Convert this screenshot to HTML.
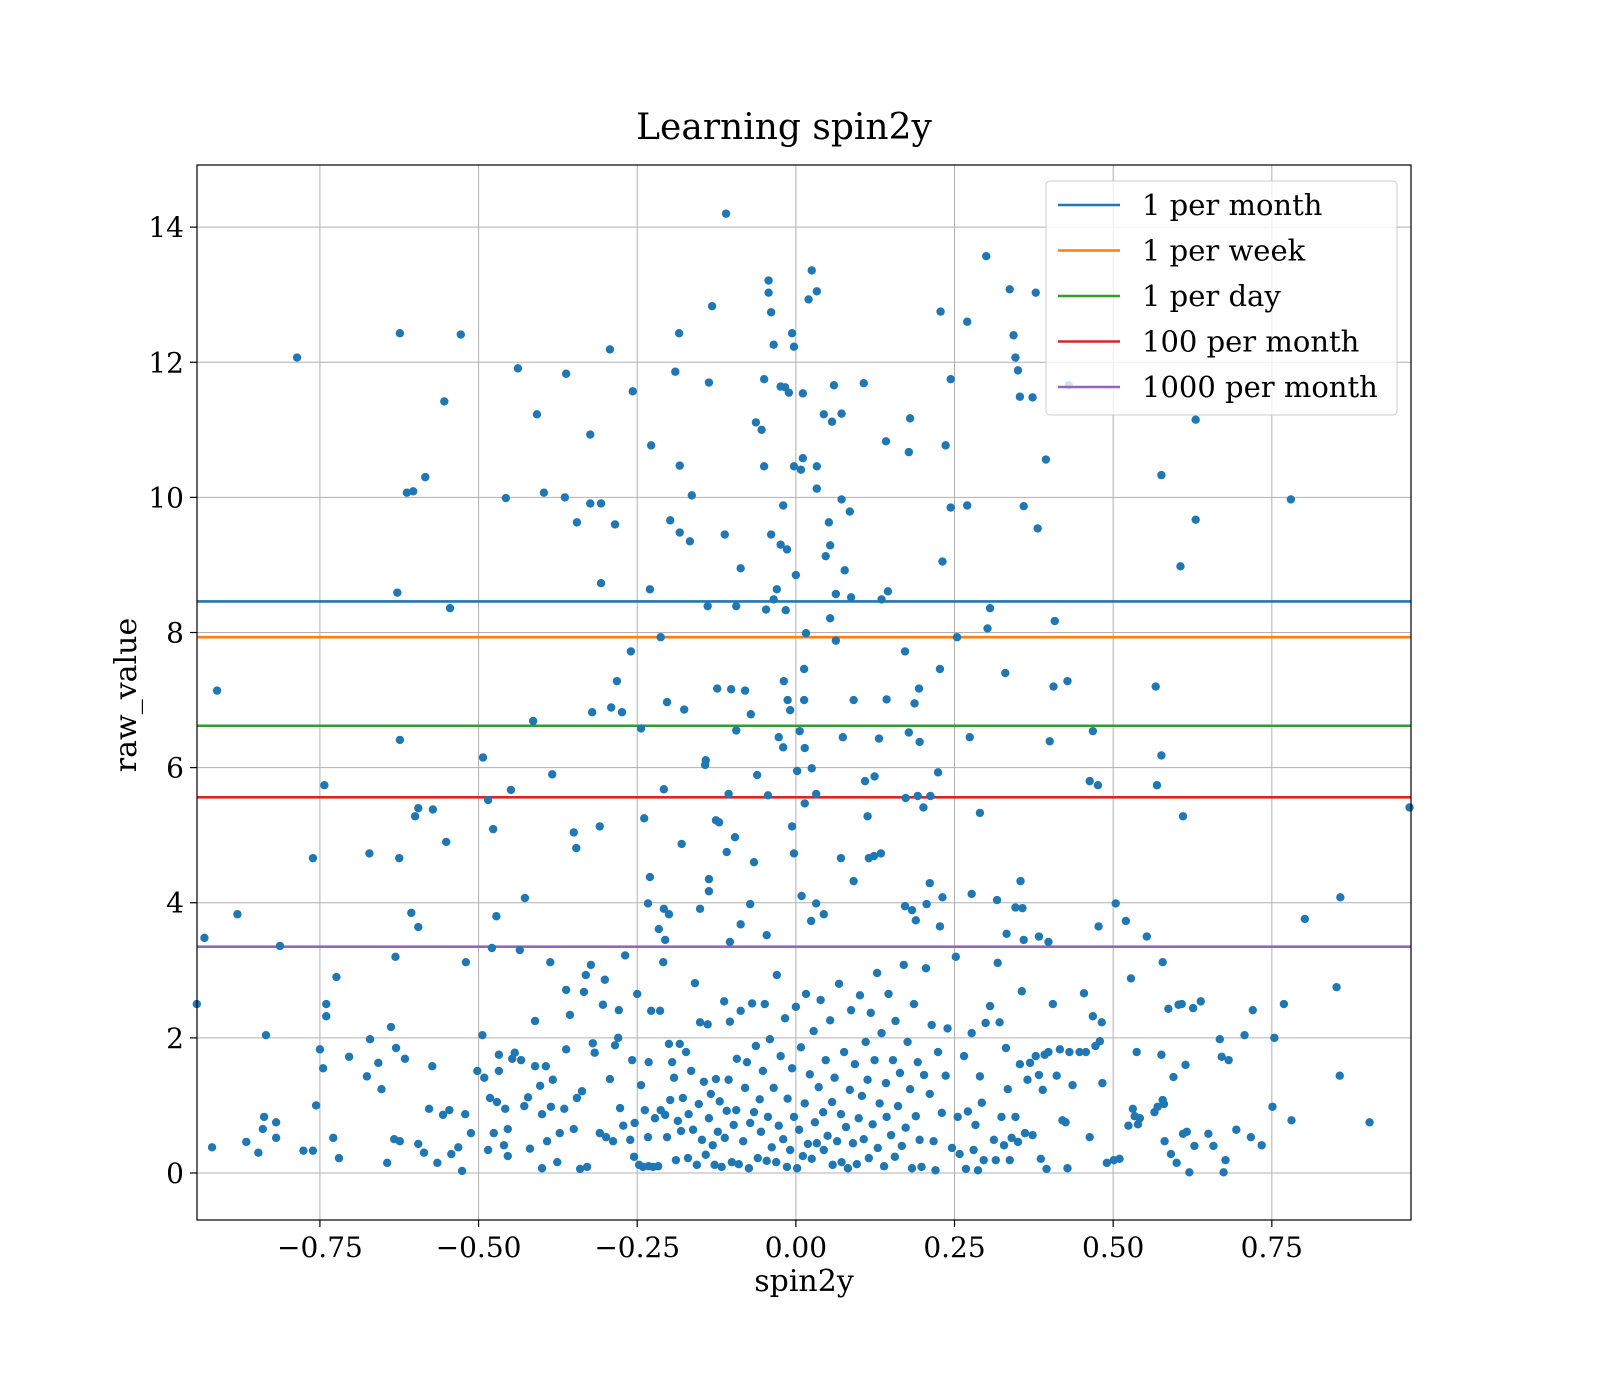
<!DOCTYPE html>
<html><head><meta charset="utf-8"><style>
html,body{margin:0;padding:0;background:#fff;}
svg{display:block;font-family:"DejaVu Serif","Liberation Serif",serif;}
</style></head><body>
<svg id="chart" width="1600" height="1400" viewBox="0 0 1600 1400" xmlns="http://www.w3.org/2000/svg">
<rect width="1600" height="1400" fill="#fff"/>
<text x="784" y="139" font-size="36" text-anchor="middle" fill="#000">Learning spin2y</text>
<g id="grid"></g><g id="hlines"></g><g id="pts"></g>
<rect x="197" y="165" width="1214" height="1055" fill="none" stroke="#000" stroke-width="1.2"/>
<g id="axes"></g><g id="legend"></g>
<text x="804" y="1291" font-size="30" text-anchor="middle">spin2y</text>
<text x="0" y="0" font-size="30" text-anchor="middle" transform="translate(136,695) rotate(-90)">raw_value</text>
</svg>
<script>
const xTicks=[-0.75,-0.5,-0.25,0,0.25,0.5,0.75];
const xTickLabels=["\u22120.75","\u22120.50","\u22120.25","0.00","0.25","0.50","0.75"];
const yTicks=[0,2,4,6,8,10,12,14];
const yTickLabels=["0","2","4","6","8","10","12","14"];
const thresholdNames=["1 per month","1 per week","1 per day","100 per month","1000 per month"];
const thresholdValues=[8.46,7.93,6.62,5.56,3.35];
const thresholdColors=["#1f77b4","#ff7f0e","#2ca02c","#d62728","#9467bd"];
const samples=[
[-0.11,14.2],[-0.043,13.21],[-0.043,13.03],[0.025,13.36],[0.033,13.05],[0.02,12.93],[0.30,13.57],[0.337,13.08],[0.378,13.03],[-0.132,12.83],[-0.039,12.74],[0.228,12.75],[0.27,12.6],[-0.624,12.43],[-0.528,12.41],[-0.184,12.43],[-0.006,12.43],[-0.003,12.23],[-0.035,12.26],[-0.293,12.19],[0.343,12.4],[-0.786,12.07],[0.346,12.07],[0.35,11.88],[-0.438,11.91],[-0.19,11.86],[-0.362,11.83],[-0.137,11.7],[-0.05,11.75],[0.06,11.66],[0.107,11.69],[-0.024,11.64],[-0.017,11.63],[0.244,11.75],[-0.011,11.55],[0.011,11.54],[-0.257,11.57],[0.353,11.49],[0.373,11.48],[0.43,11.66],[-0.554,11.42],[0.044,11.23],[0.072,11.24],[0.057,11.12],[-0.408,11.23],[0.18,11.17],[-0.063,11.11],[-0.054,11.0],[0.63,11.15],[-0.324,10.93],[0.142,10.83],[-0.228,10.77],[0.236,10.77],[0.178,10.67],[0.394,10.56],[0.011,10.58],[-0.183,10.47],[-0.05,10.46],[0.033,10.46],[-0.003,10.46],[0.008,10.41],[0.576,10.33],[-0.584,10.3],[-0.613,10.07],[-0.603,10.09],[-0.397,10.07],[0.033,10.13],[-0.164,10.03],[-0.364,10.0],[-0.457,9.99],[0.072,9.97],[0.78,9.97],[-0.324,9.91],[-0.307,9.91],[-0.02,9.88],[0.27,9.88],[0.244,9.85],[0.085,9.79],[0.359,9.87],[-0.198,9.66],[0.63,9.67],[-0.345,9.63],[0.052,9.63],[-0.285,9.6],[0.381,9.54],[-0.183,9.48],[-0.039,9.45],[-0.112,9.45],[-0.167,9.35],[-0.024,9.3],[0.054,9.29],[-0.014,9.23],[0.047,9.13],[0.231,9.05],[-0.087,8.95],[0.077,8.92],[0.606,8.98],[0.0,8.85],[-0.307,8.73],[-0.23,8.64],[-0.03,8.64],[0.145,8.61],[-0.628,8.59],[0.063,8.57],[0.087,8.52],[0.135,8.49],[-0.035,8.49],[-0.139,8.39],[-0.094,8.39],[-0.545,8.36],[-0.047,8.34],[-0.016,8.33],[0.306,8.36],[0.054,8.21],[0.408,8.17],[0.302,8.06],[0.016,7.99],[-0.213,7.93],[0.254,7.93],[0.063,7.88],[0.172,7.72],[-0.26,7.72],[0.227,7.46],[0.013,7.46],[0.33,7.4],[-0.019,7.28],[-0.282,7.28],[0.428,7.28],[0.567,7.2],[0.406,7.2],[-0.912,7.14],[-0.124,7.17],[-0.102,7.16],[-0.08,7.14],[0.194,7.17],[0.143,7.01],[0.013,7.0],[0.091,7.0],[-0.203,6.97],[-0.013,7.0],[0.187,6.95],[-0.009,6.85],[-0.176,6.86],[-0.291,6.89],[-0.274,6.82],[-0.321,6.82],[-0.071,6.79],[-0.414,6.69],[-0.094,6.55],[-0.244,6.58],[0.006,6.54],[0.468,6.54],[0.178,6.52],[0.074,6.45],[-0.027,6.45],[0.274,6.45],[0.131,6.43],[-0.624,6.41],[0.4,6.39],[0.195,6.38],[-0.02,6.3],[0.014,6.29],[0.576,6.18],[-0.493,6.15],[-0.142,6.11],[-0.143,6.04],[0.025,5.99],[0.002,5.95],[0.224,5.93],[-0.384,5.9],[-0.061,5.89],[0.109,5.8],[0.463,5.8],[0.124,5.87],[-0.743,5.74],[0.569,5.74],[0.476,5.74],[-0.208,5.68],[-0.449,5.67],[0.032,5.61],[-0.044,5.59],[0.967,5.41],[0.192,5.58],[0.212,5.58],[0.173,5.55],[-0.485,5.52],[-0.106,5.61],[0.014,5.47],[0.201,5.41],[-0.595,5.4],[-0.572,5.38],[-0.6,5.28],[0.29,5.33],[0.113,5.28],[0.61,5.28],[-0.239,5.25],[-0.126,5.22],[-0.121,5.19],[-0.309,5.13],[-0.006,5.13],[-0.477,5.09],[-0.35,5.04],[-0.096,4.97],[-0.551,4.9],[-0.346,4.81],[-0.18,4.87],[-0.109,4.75],[0.134,4.73],[-0.003,4.73],[-0.672,4.73],[0.123,4.69],[0.115,4.66],[-0.761,4.66],[-0.625,4.66],[0.071,4.66],[-0.066,4.6],[-0.137,4.35],[-0.23,4.38],[0.354,4.32],[0.091,4.32],[0.211,4.29],[-0.137,4.17],[0.009,4.1],[0.277,4.13],[0.858,4.08],[-0.427,4.07],[0.231,4.08],[0.504,3.99],[0.317,4.04],[0.032,3.99],[-0.233,3.99],[0.206,3.98],[-0.072,3.98],[0.172,3.95],[0.346,3.93],[0.357,3.92],[-0.208,3.91],[0.183,3.89],[-0.151,3.91],[-0.88,3.83],[-0.2,3.83],[-0.606,3.85],[-0.472,3.8],[0.802,3.76],[0.189,3.74],[0.044,3.83],[0.024,3.73],[0.52,3.73],[-0.087,3.68],[0.477,3.65],[0.227,3.65],[-0.595,3.64],[-0.216,3.61],[0.553,3.5],[0.332,3.54],[0.383,3.5],[-0.046,3.52],[0.359,3.45],[0.398,3.42],[-0.206,3.45],[-0.104,3.42],[-0.932,3.48],
[-0.944,2.5],[-0.92,0.38],[-0.866,0.46],[-0.847,0.3],[-0.84,0.65],[-0.838,0.83],[-0.835,2.04],[-0.819,0.52],[-0.819,0.75],[-0.813,3.36],[-0.776,0.33],[-0.761,0.33],[-0.756,1.0],[-0.75,1.83],[-0.745,1.55],[-0.74,2.5],[-0.74,2.32],[-0.729,0.52],[-0.724,2.9],[-0.72,0.22],[-0.704,1.72],[-0.676,1.43],[-0.671,1.98],[-0.658,1.63],[-0.653,1.24],[-0.644,0.15],[-0.638,2.16],[-0.633,0.5],[-0.631,3.2],[-0.63,1.85],[-0.624,0.47],[-0.616,1.69],[-0.595,0.43],[-0.586,0.3],[-0.578,0.95],[-0.573,1.58],[-0.565,0.15],[-0.556,0.86],[-0.546,0.93],[-0.543,0.28],[-0.532,0.38],[-0.526,0.03],[-0.521,0.87],[-0.52,3.12],[-0.512,0.59],[-0.502,1.51],[-0.494,2.04],[-0.491,1.41],[-0.485,0.34],[-0.482,1.11],[-0.479,3.33],[-0.476,0.59],[-0.471,1.05],[-0.468,1.75],[-0.468,1.51],[-0.46,0.41],[-0.458,0.95],[-0.454,0.65],[-0.454,0.25],[-0.447,1.69],[-0.443,1.78],[-0.435,3.3],[-0.433,1.67],[-0.428,0.99],[-0.422,1.12],[-0.419,0.36],[-0.411,2.25],[-0.411,1.58],[-0.403,1.29],[-0.4,0.87],[-0.4,0.07],[-0.394,1.58],[-0.392,0.47],[-0.387,3.12],[-0.386,0.98],[-0.383,1.38],[-0.376,0.16],[-0.372,0.59],[-0.365,0.95],[-0.362,1.83],[-0.362,2.71],[-0.356,2.34],[-0.35,0.65],[-0.345,1.11],[-0.34,0.06],[-0.337,1.21],[-0.334,2.68],[-0.331,2.93],[-0.329,0.09],[-0.323,3.08],[-0.32,1.92],[-0.317,1.78],[-0.309,0.59],[-0.304,2.49],[-0.301,2.86],[-0.299,0.53],[-0.293,1.39],[-0.288,0.47],[-0.285,1.89],[-0.28,2.0],[-0.279,2.41],[-0.277,0.96],[-0.272,0.7],[-0.269,3.22],[-0.261,0.49],[-0.258,1.67],[-0.255,0.24],[-0.254,0.74],[-0.25,2.65],[-0.247,0.12],[-0.244,1.3],[-0.241,0.09],[-0.238,0.93],[-0.233,0.53],[-0.232,1.64],[-0.232,0.1],[-0.228,2.4],[-0.225,0.09],[-0.222,0.81],[-0.217,0.1],[-0.214,2.4],[-0.213,0.93],[-0.209,3.12],[-0.206,0.86],[-0.203,0.53],[-0.2,1.91],[-0.198,1.08],[-0.195,1.64],[-0.192,1.41],[-0.189,0.19],[-0.186,0.77],[-0.183,1.91],[-0.181,0.62],[-0.178,1.11],[-0.173,1.79],[-0.17,0.22],[-0.169,0.87],[-0.165,1.51],[-0.162,0.64],[-0.159,2.81],[-0.156,0.12],[-0.153,1.02],[-0.151,2.23],[-0.148,0.49],[-0.145,1.35],[-0.142,0.27],[-0.139,2.2],[-0.137,0.81],[-0.134,1.17],[-0.131,0.41],[-0.128,0.12],[-0.126,1.39],[-0.123,0.61],[-0.12,1.06],[-0.117,0.09],[-0.113,2.54],[-0.112,0.52],[-0.109,0.92],[-0.106,1.38],[-0.104,2.24],[-0.101,0.16],[-0.098,0.71],[-0.094,0.93],[-0.093,1.69],[-0.09,0.13],[-0.087,2.4],[-0.083,0.47],[-0.08,1.26],[-0.077,1.64],[-0.074,0.07],[-0.072,0.74],[-0.069,2.51],[-0.066,0.9],[-0.063,1.88],[-0.06,0.22],[-0.057,1.09],[-0.055,0.61],[-0.052,1.51],[-0.049,2.5],[-0.046,0.18],[-0.044,0.83],[-0.041,1.98],[-0.038,0.38],[-0.035,1.26],[-0.031,0.16],[-0.03,2.93],[-0.027,0.7],[-0.024,1.73],[-0.02,0.5],[-0.017,2.29],[-0.014,0.09],[-0.013,1.1],[-0.009,0.34],[-0.006,1.55],[-0.003,0.83],[0,2.46],[0.002,0.07],[0.005,0.64],[0.008,1.86],[0.011,0.25],[0.014,1.03],[0.016,2.65],[0.019,0.43],[0.022,1.46],[0.025,0.21],[0.028,2.1],[0.03,0.75],[0.033,0.44],[0.036,1.27],[0.039,2.56],[0.043,0.9],[0.044,0.34],[0.047,1.67],[0.05,0.55],[0.054,2.26],[0.057,1.05],[0.058,0.12],[0.061,1.41],[0.065,0.47],[0.068,2.8],[0.071,0.87],[0.072,0.16],[0.076,1.79],[0.079,0.68],[0.082,0.07],[0.085,1.23],[0.087,2.41],[0.09,0.44],[0.093,1.61],[0.096,0.13],[0.099,0.81],[0.101,2.63],[0.104,1.14],[0.107,0.5],[0.11,1.94],[0.113,1.38],[0.115,0.22],[0.118,2.37],[0.121,0.72],[0.124,1.67],[0.128,2.96],[0.129,0.37],[0.132,1.03],[0.135,2.07],[0.139,0.1],[0.142,1.33],[0.143,0.83],[0.146,2.65],[0.15,0.56],[0.153,1.67],[0.156,0.24],[0.157,2.25],[0.161,0.99],[0.164,1.48],[0.167,0.4],[0.17,3.08],[0.173,0.67],[0.176,1.94],[0.18,1.24],[0.183,0.07],[0.186,2.5],[0.189,0.84],[0.192,1.64],[0.195,0.49],[0.198,0.09],[0.202,1.45],[0.205,3.03],[0.211,1.17],[0.214,2.19],[0.217,0.47],[0.22,0.04],[0.224,1.79],[0.23,0.89],[0.236,1.44],[0.239,2.14],[0.246,0.37],[0.252,3.2],[0.255,0.83],[0.258,0.28],[0.265,1.73],[0.268,0.06],[0.271,0.91],[0.277,2.07],[0.28,0.34],[0.283,0.71],[0.287,0.04],[0.29,1.43],[0.293,1.04],[0.296,0.19],[0.299,2.22],[0.306,2.47],[0.312,0.49],[0.315,0.19],[0.318,3.11],[0.321,2.23],[0.324,0.83],[0.328,0.41],[0.331,1.85],[0.334,1.24],[0.337,0.19],[0.34,0.52],[0.346,0.83],[0.35,0.46],[0.353,1.61],[0.356,2.69],[0.361,0.59],[0.365,1.38],[0.369,1.63],[0.373,0.56],[0.378,1.73],[0.383,1.45],[0.386,0.21],[0.389,1.23],[0.392,1.75],[0.395,0.06],[0.398,1.79],[0.405,2.5],[0.411,1.44],[0.416,1.83],[0.42,0.78],[0.425,0.75],[0.428,0.07],[0.431,1.79],[0.436,1.3],[0.447,1.79],[0.454,2.66],[0.457,1.79],[0.463,0.53],[0.468,2.32],[0.472,1.88],[0.479,1.95],[0.482,2.23],[0.483,1.33],[0.49,0.15],[0.501,0.19],[0.51,0.21],[0.524,0.7],[0.528,2.88],[0.531,0.95],[0.534,0.84],[0.537,1.79],[0.539,0.72],[0.542,0.81],[0.565,0.9],[0.57,0.98],[0.576,1.75],[0.578,1.08],[0.58,1.02],[0.581,0.47],[0.578,3.12],[0.587,2.43],[0.591,0.28],[0.595,1.42],[0.6,0.15],[0.603,2.49],[0.608,2.5],[0.61,0.58],[0.614,1.6],[0.616,0.61],[0.62,0.01],[0.626,2.44],[0.628,0.4],[0.638,2.54],[0.65,0.58],[0.658,0.4],[0.668,1.98],[0.671,1.72],[0.674,0.01],[0.677,0.19],[0.682,1.67],[0.694,0.64],[0.707,2.04],[0.717,0.53],[0.72,2.41],[0.734,0.41],[0.751,0.98],[0.754,2.0],[0.769,2.5],[0.781,0.78],[0.852,2.75],[0.857,1.44],[0.904,0.75]
];
const NS="http://www.w3.org/2000/svg";
const L=197,R=1411,T=165,B=1220;
const xMin=-0.9437,xMax=0.9693,yMin=-0.696,yMax=14.92;
function sx(v){return L+(v-xMin)/(xMax-xMin)*(R-L);}
function sy(v){return B-(v-yMin)/(yMax-yMin)*(B-T);}
function mk(tag,attrs,parent){const e=document.createElementNS(NS,tag);for(const k in attrs)e.setAttribute(k,attrs[k]);parent.appendChild(e);return e;}
const grid=document.getElementById('grid'),axes=document.getElementById('axes');
xTicks.forEach((v,i)=>{
  const x=sx(v);
  const g=mk('line',{x1:x,x2:x,y1:T,y2:B,stroke:'#b0b0b0','stroke-width':1},grid);
  
  
  const t=mk('line',{x1:x,x2:x,y1:B,y2:B+7,stroke:'#000','stroke-width':1.2},axes);
  
  
  const tx=mk('text',{x:x,y:B+37,'font-size':28,'text-anchor':'middle'},axes);
  tx.textContent=xTickLabels[i];
  
  
});
yTicks.forEach((v,i)=>{
  const y=sy(v);
  const g=mk('line',{x1:L,x2:R,y1:y,y2:y,stroke:'#b0b0b0','stroke-width':1},grid);
  
  
  const t=mk('line',{x1:L-7,x2:L,y1:y,y2:y,stroke:'#000','stroke-width':1.2},axes);
  
  
  const tx=mk('text',{x:L-13,y:y+10,'font-size':28,'text-anchor':'end'},axes);
  tx.textContent=yTickLabels[i];
  
  
});
const hl=document.getElementById('hlines');
thresholdValues.forEach((v,i)=>{
  const y=sy(v);
  const l=mk('line',{x1:L,x2:R,y1:y,y2:y,stroke:thresholdColors[i],'stroke-width':2.6},hl);
  
  
});
const pts=document.getElementById('pts');
samples.forEach(p=>{
  const c=mk('circle',{cx:sx(p[0]),cy:sy(p[1]),r:4.2,fill:'#1f77b4'},pts);
  
  
});
const lg=document.getElementById('legend');
const box=mk('rect',{x:1046,y:181,width:351,height:234,rx:4,fill:'#fff','fill-opacity':0.8,stroke:'#ccc','stroke-width':1},lg);


thresholdNames.forEach((n,i)=>{
  const y=205+i*45.5;
  const l=mk('line',{x1:1058,x2:1120,y1:y,y2:y,stroke:thresholdColors[i],'stroke-width':2.6},lg);
  
  
  const t=mk('text',{x:1142,y:y+10,'font-size':29},lg);
  t.textContent=n;
  
  
});
</script>
</body></html>
